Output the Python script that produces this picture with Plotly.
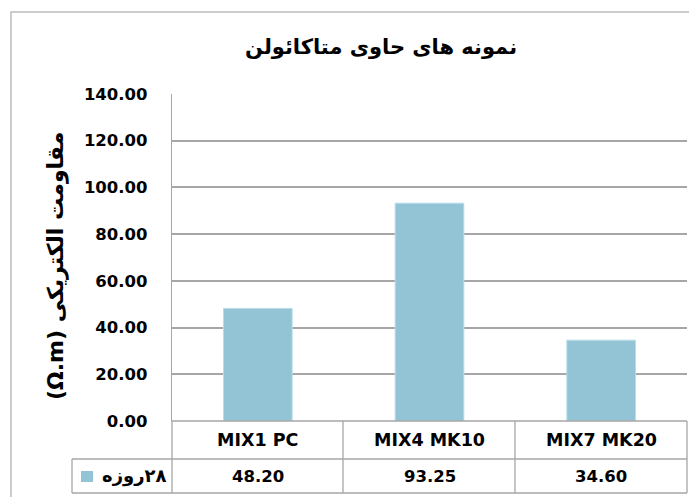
import plotly.graph_objects as go

# ---- data ----
categories = ["MIX1 PC", "MIX4 MK10", "MIX7 MK20"]
values_28d = [48.20, 93.25, 34.60]
series_name = "\u200F۲۸روزه"
title_text = "نمونه های حاوی متاکائولن"
ytitle_text = "\u200E(Ω.m)\u200E مقاومت الکتریکی"
y_ticks = [0, 20, 40, 60, 80, 100, 120, 140]

OFF = 8  # page body margin
W, H = 697 - OFF, 497 - OFF
PLOT_L, PLOT_R, PLOT_T, PLOT_B = 172, 687, 94, 421  # screen pixels
L, T = PLOT_L - OFF, PLOT_T - OFF
R, B = W - (PLOT_R - OFF), H - (PLOT_B - OFF)
PW, PH = PLOT_R - PLOT_L, PLOT_B - PLOT_T

def fx(x):
    return (x - PLOT_L) / PW

def fy(y):
    return (PLOT_B - y) / PH

BAR = "#93C4D5"
GRID = "#A6A6A6"
FONT = "DejaVu Sans"

fig = go.Figure()
fig.add_trace(go.Bar(
    x=categories, y=values_28d, name=series_name,
    marker=dict(color=BAR, line=dict(color="#B9DCE8", width=1)),
    showlegend=False,
))

shapes = []
def line(x0, y0, x1, y1, color=GRID, w=1.3):
    shapes.append(dict(type="line", xref="paper", yref="paper",
                       x0=fx(x0), y0=fy(y0), x1=fx(x1), y1=fy(y1),
                       line=dict(color=color, width=w), layer="above"))

# outer chart border
shapes.append(dict(type="rect", xref="paper", yref="paper",
                   x0=fx(11), y0=fy(12), x1=fx(720), y1=fy(520),
                   line=dict(color="#BDBDBD", width=1.5), layer="below"))

# data table grid
row1, row2, row3 = PLOT_B, 459, 493
line(172, row1, 172, row3)
line(343, row1, 343, row3)
line(515, row1, 515, row3)
line(687, row1, 687, row3)
line(72, row2, 687, row2)
line(72, row3, 687, row3)
line(72, row2, 72, row3)
line(172, row1, 687, row1)
# legend key
shapes.append(dict(type="rect", xref="paper", yref="paper",
                   x0=fx(81), y0=fy(482), x1=fx(93), y1=fy(471),
                   line=dict(width=0), fillcolor=BAR, layer="above"))

annotations = []
for c, v in zip(categories, values_28d):
    annotations.append(dict(x=c, xref="x", y=fy(440), yref="paper",
                            text=c, showarrow=False,
                            font=dict(family=FONT, size=17.5, color="#000", weight="bold"),
                            xanchor="center", yanchor="middle"))
    annotations.append(dict(x=c, xref="x", y=fy(476), yref="paper",
                            text=f"{v:.2f}", showarrow=False,
                            font=dict(family=FONT, size=16.5, color="#000", weight="bold"),
                            xanchor="center", yanchor="middle"))
annotations.append(dict(x=fx(169), xref="paper", y=fy(476), yref="paper",
                        text=series_name, showarrow=False,
                        font=dict(family=FONT, size=18, color="#000", weight="bold"),
                        xanchor="right", yanchor="middle"))
annotations.append(dict(x=fx(381), xref="paper", y=fy(47), yref="paper",
                        text=title_text, showarrow=False,
                        font=dict(family=FONT, size=21, color="#000", weight="bold"),
                        xanchor="center", yanchor="middle"))
annotations.append(dict(x=fx(56), xref="paper", y=fy(266), yref="paper",
                        text=ytitle_text, showarrow=False, textangle=-90,
                        font=dict(family=FONT, size=22, color="#000", weight="bold"),
                        xanchor="center", yanchor="middle"))

fig.update_layout(
    width=W, height=H,
    margin=dict(l=L, r=R, t=T, b=B),
    paper_bgcolor="white", plot_bgcolor="white",
    bargap=0.6,
    shapes=shapes, annotations=annotations,
    xaxis=dict(showticklabels=False, showgrid=False, zeroline=False,
               showline=False, ticks=""),
    yaxis=dict(range=[0, 140], tickvals=y_ticks, tickformat=".2f",
               showgrid=True, gridcolor=GRID, gridwidth=1.5,
               zeroline=False, showline=True, linecolor=GRID, linewidth=1.3,
               ticks="", ticklabelstandoff=20,
               tickfont=dict(family=FONT, size=16.5, color="#000", weight="bold")),
    showlegend=False,
)

fig.write_html("out.html")
